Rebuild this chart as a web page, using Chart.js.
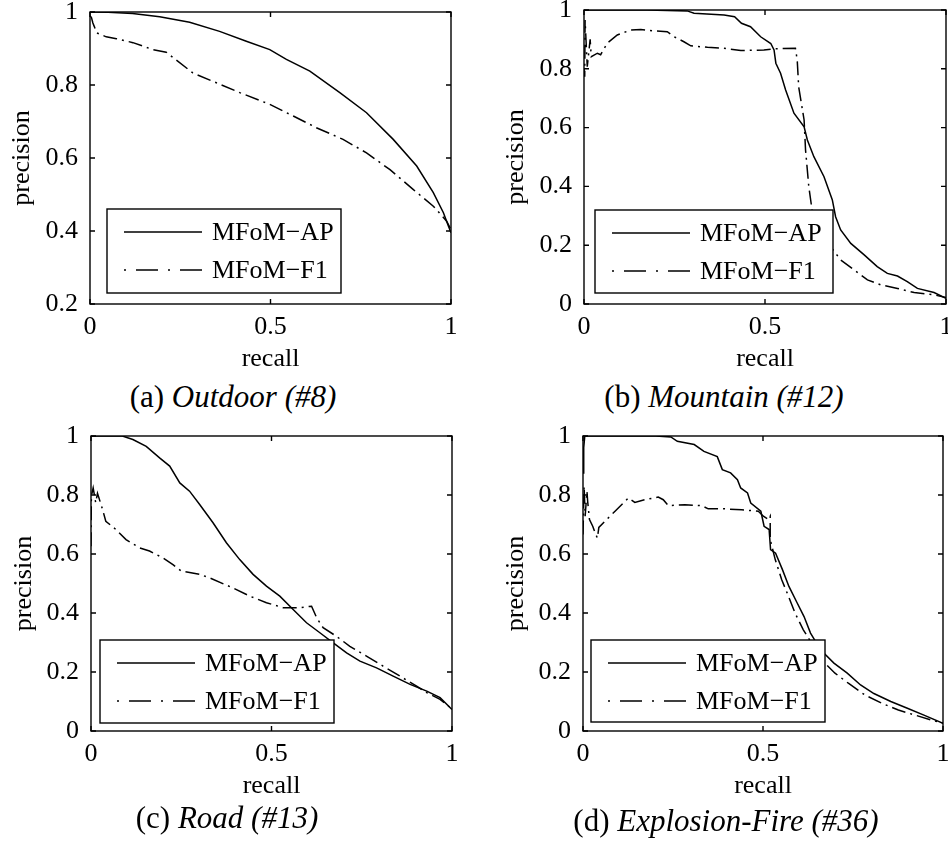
<!DOCTYPE html>
<html><head><meta charset="utf-8">
<script src="https://cdn.jsdelivr.net/npm/chart.js@4.4.0/dist/chart.umd.min.js"></script>
<style>
html,body{margin:0;padding:0;background:#fff;}
#wrap{position:relative;width:948px;height:847px;overflow:hidden;background:#fff;}
canvas{position:absolute;}
.cap{position:absolute;width:400px;text-align:center;font-family:"Liberation Serif","Times New Roman",serif;font-size:31px;line-height:36px;color:#000;white-space:nowrap;}
</style></head><body>
<div id="wrap">
<canvas id="cA" width="474" height="379" style="left:0px;top:0px"></canvas>
<canvas id="cB" width="454" height="379" style="left:494px;top:0px"></canvas>
<canvas id="cC" width="474" height="386" style="left:0px;top:420px"></canvas>
<canvas id="cD" width="454" height="386" style="left:494px;top:420px"></canvas>
<div class="cap" style="left:33px;top:379px">(a) <i>Outdoor (#8)</i></div>
<div class="cap" style="left:524px;top:379px">(b) <i>Mountain (#12)</i></div>
<div class="cap" style="left:27px;top:800px">(c) <i>Road (#13)</i></div>
<div class="cap" style="left:526px;top:803px">(d) <i>Explosion-Fire (#36)</i></div>
</div>
<script>
// ---------- data ----------
const xTickValues = [0, 0.5, 1];
const yTickOutdoor = [0.2, 0.4, 0.6, 0.8, 1];
const yTickOther = [0, 0.2, 0.4, 0.6, 0.8, 1];
const seriesNames = ['MFoM\u2212AP', 'MFoM\u2212F1'];
const xTitle = 'recall';
const yTitle = 'precision';

// (a) Outdoor (#8)
const outdoorApRecall = [0, 0.05, 0.118, 0.193, 0.276, 0.359, 0.433, 0.498, 0.544, 0.609, 0.692, 0.766, 0.84, 0.905, 0.951, 0.979, 0.993, 1];
const outdoorApPrec   = [1, 0.999, 0.996, 0.987, 0.972, 0.947, 0.92, 0.897, 0.87, 0.838, 0.779, 0.724, 0.651, 0.578, 0.505, 0.45, 0.413, 0.395];
const outdoorF1Recall = [0, 0.004, 0.008, 0.012, 0.018, 0.045, 0.073, 0.119, 0.174, 0.211, 0.285, 0.35, 0.415, 0.498, 0.563, 0.627, 0.701, 0.766, 0.831, 0.895, 0.951, 0.988, 1];
const outdoorF1Prec   = [0.99, 0.985, 0.97, 0.96, 0.943, 0.932, 0.927, 0.916, 0.897, 0.89, 0.833, 0.806, 0.779, 0.747, 0.715, 0.683, 0.651, 0.614, 0.568, 0.514, 0.468, 0.427, 0.404];

// (b) Mountain (#12)
const mountainApRecall = [0, 0.175, 0.285, 0.304, 0.387, 0.416, 0.435, 0.46, 0.488, 0.516, 0.525, 0.53, 0.543, 0.557, 0.58, 0.608, 0.617, 0.635, 0.663, 0.686, 0.695, 0.709, 0.737, 0.774, 0.81, 0.838, 0.866, 0.893, 0.921, 0.967, 1];
const mountainApPrec   = [1, 1, 0.997, 0.989, 0.983, 0.977, 0.955, 0.943, 0.909, 0.886, 0.864, 0.819, 0.785, 0.728, 0.649, 0.603, 0.558, 0.501, 0.433, 0.354, 0.297, 0.252, 0.206, 0.167, 0.127, 0.104, 0.095, 0.076, 0.053, 0.039, 0.019];
const mountainF1Recall = [0, 0.002, 0.003, 0.009, 0.017, 0.02, 0.037, 0.046, 0.064, 0.092, 0.129, 0.157, 0.193, 0.23, 0.249, 0.276, 0.295, 0.341, 0.387, 0.433, 0.497, 0.525, 0.584, 0.589, 0.593, 0.608, 0.612, 0.621, 0.63, 0.653, 0.681, 0.709, 0.746, 0.783, 0.82, 0.866, 0.912, 0.967, 1];
const mountainF1Prec   = [0.8, 0.773, 0.966, 0.807, 0.9, 0.841, 0.853, 0.848, 0.887, 0.915, 0.932, 0.934, 0.929, 0.926, 0.909, 0.892, 0.878, 0.873, 0.87, 0.862, 0.864, 0.868, 0.87, 0.83, 0.739, 0.626, 0.524, 0.399, 0.32, 0.24, 0.195, 0.15, 0.116, 0.082, 0.065, 0.053, 0.039, 0.031, 0.022];

// (c) Road (#13)
const roadApRecall = [0, 0.087, 0.116, 0.153, 0.19, 0.218, 0.246, 0.273, 0.301, 0.338, 0.375, 0.412, 0.449, 0.486, 0.523, 0.56, 0.597, 0.634, 0.671, 0.708, 0.745, 0.791, 0.837, 0.884, 0.93, 0.967, 1];
const roadApPrec   = [1, 1, 0.988, 0.965, 0.926, 0.898, 0.841, 0.813, 0.768, 0.706, 0.638, 0.581, 0.531, 0.491, 0.457, 0.412, 0.367, 0.333, 0.299, 0.265, 0.237, 0.214, 0.186, 0.158, 0.135, 0.113, 0.073];
const roadF1Recall = [0, 0.001, 0.006, 0.013, 0.018, 0.032, 0.041, 0.069, 0.097, 0.134, 0.162, 0.199, 0.227, 0.25, 0.301, 0.329, 0.393, 0.44, 0.486, 0.532, 0.578, 0.611, 0.625, 0.643, 0.68, 0.717, 0.763, 0.809, 0.856, 0.902, 0.93, 0.967, 1];
const roadF1Prec   = [0.626, 0.796, 0.824, 0.774, 0.806, 0.751, 0.711, 0.683, 0.649, 0.621, 0.61, 0.587, 0.564, 0.542, 0.531, 0.519, 0.485, 0.457, 0.435, 0.418, 0.418, 0.423, 0.384, 0.35, 0.321, 0.287, 0.254, 0.22, 0.186, 0.152, 0.13, 0.107, 0.075];

// (d) Explosion-Fire (#36)
const fireApRecall = [0, 0.002, 0.005, 0.202, 0.244, 0.262, 0.309, 0.336, 0.373, 0.387, 0.41, 0.429, 0.438, 0.457, 0.466, 0.494, 0.503, 0.517, 0.521, 0.535, 0.554, 0.572, 0.595, 0.614, 0.632, 0.66, 0.697, 0.734, 0.771, 0.808, 0.855, 0.901, 0.947, 1];
const fireApPrec   = [0.875, 0.96, 1, 1, 0.997, 0.982, 0.971, 0.948, 0.93, 0.886, 0.875, 0.852, 0.824, 0.807, 0.773, 0.745, 0.694, 0.683, 0.615, 0.603, 0.547, 0.49, 0.434, 0.388, 0.332, 0.275, 0.23, 0.196, 0.156, 0.127, 0.1, 0.077, 0.054, 0.026];
const fireF1Recall = [0, 0.003, 0.006, 0.011, 0.013, 0.018, 0.027, 0.034, 0.04, 0.044, 0.066, 0.089, 0.126, 0.144, 0.172, 0.209, 0.223, 0.237, 0.283, 0.33, 0.348, 0.394, 0.441, 0.487, 0.501, 0.515, 0.52, 0.52, 0.534, 0.552, 0.571, 0.589, 0.612, 0.635, 0.663, 0.7, 0.737, 0.783, 0.83, 0.876, 0.922, 0.968, 1];
const fireF1Prec   = [0.666, 0.83, 0.728, 0.812, 0.778, 0.717, 0.694, 0.671, 0.654, 0.69, 0.717, 0.745, 0.79, 0.775, 0.784, 0.793, 0.784, 0.764, 0.767, 0.764, 0.753, 0.753, 0.75, 0.745, 0.728, 0.717, 0.728, 0.649, 0.581, 0.513, 0.456, 0.4, 0.343, 0.298, 0.241, 0.196, 0.162, 0.122, 0.094, 0.071, 0.054, 0.037, 0.026];

// ---------- rendering ----------
const FONT = '"Liberation Serif", "Times New Roman", serif';
Chart.defaults.font.family = FONT;
Chart.defaults.color = '#000';

const pts = (xs, ys) => xs.map((v, i) => ({x: v, y: ys[i]}));
const fmt = v => String(Math.round(v * 10) / 10);

const framePlugin = {
  id: 'frame',
  afterDraw(chart, args, opts) {
    const {ctx, chartArea: a, scales: {x, y}} = chart;
    ctx.save();
    ctx.strokeStyle = '#000';
    ctx.lineWidth = 1.4;
    ctx.setLineDash([]);
    ctx.strokeRect(a.left, a.top, a.right - a.left, a.bottom - a.top);
    const tl = 5;
    ctx.beginPath();
    x.ticks.forEach(t => {
      const px = x.getPixelForValue(t.value);
      ctx.moveTo(px, a.bottom); ctx.lineTo(px, a.bottom - tl);
      ctx.moveTo(px, a.top); ctx.lineTo(px, a.top + tl);
    });
    y.ticks.forEach(t => {
      const py = y.getPixelForValue(t.value);
      ctx.moveTo(a.left, py); ctx.lineTo(a.left + tl, py);
      ctx.moveTo(a.right, py); ctx.lineTo(a.right - tl, py);
    });
    ctx.stroke();
    // legend box
    const b = opts.box;
    const bx = a.left + b.dx, by = a.bottom - b.db - b.h;
    ctx.fillStyle = '#fff';
    ctx.fillRect(bx, by, b.w, b.h);
    ctx.lineWidth = 1.4;
    ctx.strokeRect(bx, by, b.w, b.h);
    const rows = [{dash: [], y: by + 23}, {dash: [2, 10, 22, 10], y: by + 61}];
    ctx.font = '26px ' + FONT;
    ctx.fillStyle = '#000';
    ctx.textBaseline = 'middle';
    ctx.textAlign = 'left';
    rows.forEach((r, i) => {
      ctx.lineWidth = 1.5;
      ctx.setLineDash(r.dash);
      ctx.beginPath();
      ctx.moveTo(bx + 17, r.y); ctx.lineTo(bx + 95, r.y);
      ctx.stroke();
      ctx.setLineDash([]);
      ctx.fillText(seriesNames[i], bx + 105, r.y + 1);
    });
    ctx.restore();
  }
};

function makePanel(id, cfg) {
  new Chart(document.getElementById(id), {
    type: 'scatter',
    data: {
      datasets: [
        {label: seriesNames[0], data: pts(cfg.apR, cfg.apP), showLine: true, borderColor: '#000', borderWidth: 1.5, pointRadius: 0, tension: 0, fill: false},
        {label: seriesNames[1], data: pts(cfg.f1R, cfg.f1P), showLine: true, borderColor: '#000', borderWidth: 1.5, borderDash: [14, 5, 2, 5], pointRadius: 0, tension: 0, fill: false}
      ]
    },
    options: {
      responsive: false,
      animation: false,
      devicePixelRatio: 1,
      layout: {padding: {top: cfg.padTop, right: cfg.padRight, left: 0, bottom: 0}},
      plugins: {legend: {display: false}, tooltip: {enabled: false}, frame: {box: cfg.box}},
      scales: {
        x: {
          type: 'linear', position: 'bottom', min: 0, max: 1,
          afterBuildTicks: s => { s.ticks = xTickValues.map(v => ({value: v})); },
          afterFit: s => { s.height = 75; s.paddingLeft = 0; s.paddingRight = 0; },
          ticks: {padding: 8, autoSkip: false, maxRotation: 0, font: {family: FONT, size: 26}, color: '#000', callback: fmt},
          grid: {display: false, drawTicks: false}, border: {display: false},
          title: {display: true, text: xTitle, font: {family: FONT, size: 26}, color: '#000', padding: {top: 0, bottom: 4}}
        },
        y: {
          type: 'linear', position: 'left', min: cfg.yTicks[0], max: 1,
          afterBuildTicks: s => { s.ticks = cfg.yTicks.map(v => ({value: v})); },
          afterFit: s => { s.width = cfg.yWidth; s.paddingTop = 0; s.paddingBottom = 0; },
          ticks: {padding: 12, autoSkip: false, font: {family: FONT, size: 26}, color: '#000', callback: fmt},
          grid: {display: false, drawTicks: false}, border: {display: false},
          title: {display: true, text: yTitle, font: {family: FONT, size: 26}, color: '#000', padding: {top: cfg.yTitlePad, bottom: 0}}
        }
      }
    },
    plugins: [framePlugin]
  });
}

makePanel('cA', {apR: outdoorApRecall, apP: outdoorApPrec, f1R: outdoorF1Recall, f1P: outdoorF1Prec,
  yTicks: yTickOutdoor, padTop: 12, padRight: 23, yWidth: 90, yTitlePad: 7,
  box: {dx: 17, db: 11, w: 234, h: 84}});
makePanel('cB', {apR: mountainApRecall, apP: mountainApPrec, f1R: mountainF1Recall, f1P: mountainF1Prec,
  yTicks: yTickOther, padTop: 10, padRight: 2, yWidth: 90, yTitlePad: 7,
  box: {dx: 11, db: 11, w: 238, h: 83}});
makePanel('cC', {apR: roadApRecall, apP: roadApPrec, f1R: roadF1Recall, f1P: roadF1Prec,
  yTicks: yTickOther, padTop: 16, padRight: 22, yWidth: 91, yTitlePad: 9,
  box: {dx: 9, db: 8, w: 234, h: 83}});
makePanel('cD', {apR: fireApRecall, apP: fireApPrec, f1R: fireF1Recall, f1P: fireF1Prec,
  yTicks: yTickOther, padTop: 16, padRight: 5, yWidth: 89, yTitlePad: 7,
  box: {dx: 8, db: 9, w: 234, h: 82}});
</script>
</body></html>
